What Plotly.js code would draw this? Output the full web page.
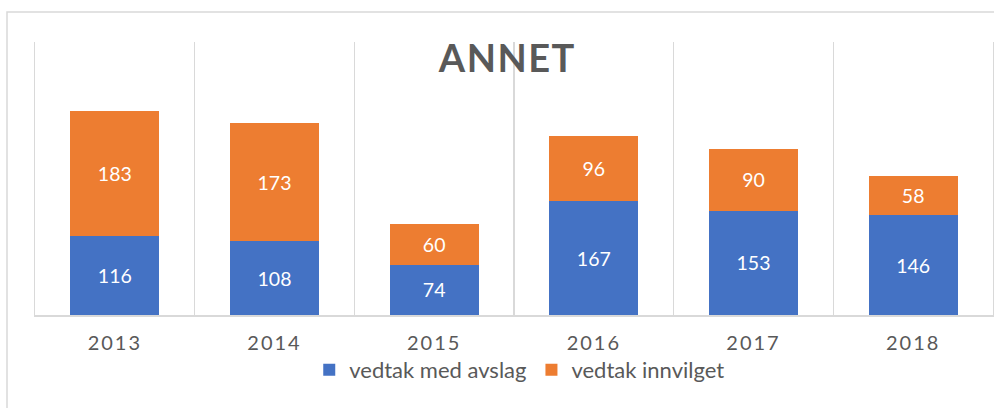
<!DOCTYPE html>
<html>
<head>
<meta charset="utf-8">
<script src="https://cdn.plot.ly/plotly-3.0.1.min.js"></script>
<style>
  html, body { margin: 0; padding: 0; background: #fff; }
  #chart { width: 994px; height: 408px; }
  .gtitle { letter-spacing: 1.5px; }
  .xtick text { letter-spacing: 2px; }
</style>
</head>
<body>
<div id="chart"></div>
<script>
const years = ['2013', '2014', '2015', '2016', '2017', '2018'];
const avslag = [116, 108, 74, 167, 153, 146];
const innvilget = [183, 173, 60, 96, 90, 58];
const seriesNames = ['vedtak med avslag', 'vedtak innvilget'];
const titleText = 'ANNET';

const FONT = 'Lato, "Open Sans", sans-serif';
const GRAY = '#595959';
const GRID = '#d9d9d9';

const traces = [
  {
    type: 'bar', x: years, y: avslag, name: seriesNames[0],
    marker: { color: '#4472C4' },
    text: avslag.map(String), textposition: 'inside', insidetextanchor: 'middle',
    textangle: 0, constraintext: 'none',
    textfont: { family: FONT, size: 19.5, color: '#ffffff' },
    hoverinfo: 'skip'
  },
  {
    type: 'bar', x: years, y: innvilget, name: seriesNames[1],
    marker: { color: '#ED7D31' },
    text: innvilget.map(String), textposition: 'inside', insidetextanchor: 'middle',
    textangle: 0, constraintext: 'none',
    textfont: { family: FONT, size: 19.5, color: '#ffffff' },
    hoverinfo: 'skip'
  }
];

const layout = {
  width: 994, height: 408,
  margin: { l: 35, r: 1, t: 42, b: 93, pad: 0 },
  paper_bgcolor: '#ffffff', plot_bgcolor: '#ffffff',
  barmode: 'stack', bargap: 0.444,
  font: { family: FONT, color: GRAY },
  title: {
    text: '<b>' + titleText + '</b>',
    font: { family: FONT, size: 38, color: GRAY },
    x: 0.493, xanchor: 'center', xref: 'paper',
    y: 1 - 59 / 408, yanchor: 'middle'
  },
  xaxis: {
    type: 'category', tickson: 'boundaries',
    showgrid: true, gridcolor: GRID, gridwidth: 1.5,
    showline: true, linecolor: GRID, linewidth: 1.5,
    ticks: '', ticklabelstandoff: 9,
    tickfont: { family: FONT, size: 20, color: GRAY },
    range: [-0.5, 5.5], fixedrange: true
  },
  yaxis: {
    range: [0, 400], showgrid: false, zeroline: false,
    showticklabels: false, ticks: '',
    showline: true, mirror: true, linecolor: GRID, linewidth: 1.5,
    fixedrange: true
  },
  showlegend: true,
  legend: {
    orientation: 'h', x: 0.506, xanchor: 'center',
    y: (315 - 370) / 273, yanchor: 'middle',
    font: { family: FONT, size: 22, color: GRAY },
    traceorder: 'normal', bgcolor: 'rgba(0,0,0,0)'
  },
  shapes: [
    {
      type: 'rect', xref: 'paper', yref: 'paper',
      x0: (7 - 35) / 958, x1: 1.03,
      y0: -0.4, y1: (315 - 12) / 273,
      line: { color: GRID, width: 1.5 }, fillcolor: 'rgba(0,0,0,0)',
      layer: 'below'
    }
  ]
};

Plotly.newPlot('chart', traces, layout, { displayModeBar: false, staticPlot: true });
</script>
</body>
</html>
